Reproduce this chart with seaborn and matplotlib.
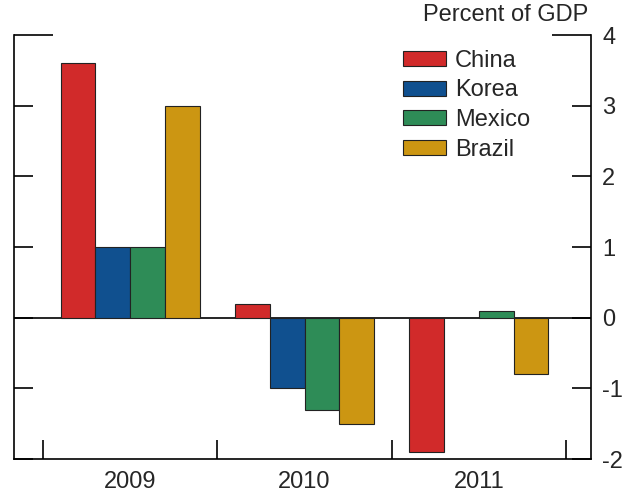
import matplotlib
matplotlib.use("Agg")
import matplotlib.pyplot as plt
import seaborn as sns
import pandas as pd
import numpy as np
from matplotlib.patches import Patch

years = ["2009", "2010", "2011"]
countries = ["China", "Korea", "Mexico", "Brazil"]
china = [3.6, 0.2, -1.9]
korea = [1.0, -1.0, np.nan]
mexico = [1.0, -1.3, 0.1]
brazil = [3.0, -1.5, -0.8]
colors = ["#d12a2a", "#10508f", "#2e8c57", "#cc9612"]
yticks = [-2, -1, 0, 1, 2, 3, 4]

sns.set_theme(style="white")
plt.rcParams['font.family'] = ['Liberation Sans', 'DejaVu Sans']
plt.rcParams['axes.unicode_minus'] = False

rows = []
for c, vals in zip(countries, [china, korea, mexico, brazil]):
    for y, v in zip(years, vals):
        rows.append({"year": y, "country": c, "value": v})
df = pd.DataFrame(rows)

FS = 17
fig = plt.figure(figsize=(6.39, 4.93), dpi=100)
ax = fig.add_axes([14/639, 34/493, (591-14)/639, (459-35)/493])

sns.barplot(data=df, x="year", y="value", hue="country", hue_order=countries,
            order=years, palette=colors, width=0.8, edgecolor="#222222",
            linewidth=0.8, saturation=1, ax=ax, legend=False)

ax.set_ylim(-2, 4)
ax.set_xlim(-0.667, 2.644)
ax.axhline(0, color="black", lw=1.2, zorder=0.5)

ax.spines["top"].set_visible(False)
for s in ["left", "right", "bottom"]:
    ax.spines[s].set_color("black")
    ax.spines[s].set_linewidth(1.2)

ax.set_yticks(yticks)
ax.set_yticklabels([str(t) for t in yticks])
ax.tick_params(axis="y", left=True, right=True, labelleft=False, labelright=True,
               direction="in", length=14, width=1.2, color="black",
               labelsize=FS, pad=8)
# longer tick at the top value (closes the frame corners)
top_tick = ax.yaxis.get_major_ticks()[-1]
top_tick.tick1line.set_markersize(28)
top_tick.tick2line.set_markersize(28)

ax.set_xticks(range(len(years)))
ax.set_xticklabels(years)
ax.tick_params(axis="x", which="major", length=0, labelsize=FS, pad=9)
ax.set_xticks([-0.5, 0.5, 1.5, 2.5], minor=True)
ax.tick_params(axis="x", which="minor", bottom=True, direction="in",
               length=14, width=1.2, color="black")
ax.set_xlabel("")
ax.set_ylabel("")

fig.text(588/639, 1 - 15/493, "Percent of GDP", ha="right", va="center", fontsize=FS)

handles = [Patch(facecolor=col, edgecolor="#222222", linewidth=0.8, label=c)
           for c, col in zip(countries, colors)]
ax.legend(handles=handles, loc="upper left", bbox_to_anchor=(0.675, 0.965),
          frameon=False, fontsize=FS, handlelength=1.78, handleheight=0.6,
          labelspacing=0.32, handletextpad=0.4, borderaxespad=0, borderpad=0)

fig.savefig("out.png", dpi=100)
